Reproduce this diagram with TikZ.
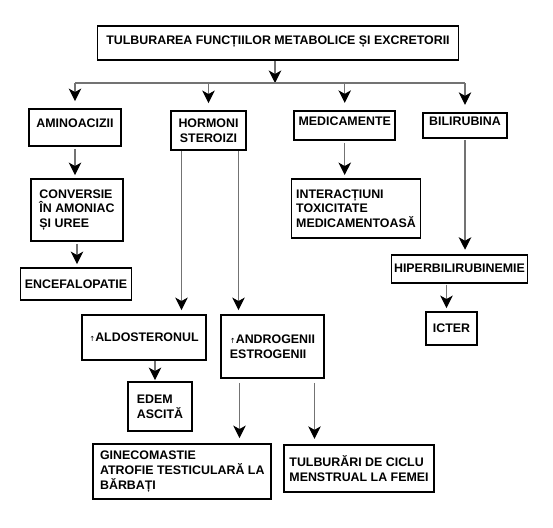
\documentclass[tikz,border=0pt]{standalone}
\usepackage{fontspec}
\setmainfont{Liberation Sans}
\newfontfamily\arrowfont{DejaVu Sans}
\usepackage{tikz}
\usetikzlibrary{arrows.meta, positioning}
\definecolor{linegray}{RGB}{115, 115, 115}
\newcommand{\uparr}{{\arrowfont\mdseries\fontsize{7}{7}\selectfont ↑}}

\begin{document}
\begin{tikzpicture}[
    x=1pt, y=-1pt,
    box/.style={draw, line width=1.9pt, align=left, inner sep=0pt, font=\bfseries\fontsize{12.4}{14.7}\selectfont},
    topbox/.style={box, text depth=8pt},
    link/.style={draw=linegray, line width=1.2pt},
    conn/.style={link, -{Stealth[color=black, length=12.5pt, width=12.5pt, inset=3.5pt]}, shorten >=3pt}
]
    \useasboundingbox (0, 0) rectangle (553, 527);

    % Title
    \node[box, minimum width=361pt, minimum height=34pt, text depth=6pt] (title) at (278, 43) {TULBURAREA FUNCȚIILOR METABOLICE ȘI EXCRETORII};

    % First level
    \node[topbox, minimum width=92pt, minimum height=37pt] (amino) at (75, 127.5) {AMINOACIZII};
    \node[box, align=center, minimum width=75pt, minimum height=39pt] (hormoni) at (208.5, 130.5) {HORMONI\\STEROIZI};
    \node[topbox, minimum width=101pt, minimum height=29pt] (medic) at (344.7, 125.3) {MEDICAMENTE};
    \node[topbox, minimum width=84pt, minimum height=25pt] (bili) at (465, 125.3) {BILIRUBINA};

    % Aminoacizii branch
    \node[box, minimum width=92pt, minimum height=62pt] (conv) at (77, 210) {CONVERSIE\\ÎN AMONIAC\\ȘI UREE};
    \node[box, minimum width=111pt, minimum height=32pt] (encef) at (76, 284) {ENCEFALOPATIE};

    % Medicamente branch
    \node[box, minimum width=129pt, minimum height=59pt] (inter) at (356, 208.5) {INTERACȚIUNI\\TOXICITATE\\MEDICAMENTOASĂ};

    % Bilirubina branch
    \node[box, minimum width=136pt, minimum height=28pt] (hiper) at (459.5, 268.7) {HIPERBILIRUBINEMIE};
    \node[box, minimum width=51pt, minimum height=33pt] (icter) at (451.5, 328.5) {ICTER};

    % Hormoni branch
    \node[box, minimum width=124pt, minimum height=45pt] (aldo) at (144, 337.5) {\uparr ALDOSTERONUL};
    \node[box, minimum width=103pt, minimum height=63pt] (andro) at (272.5, 346.5) {\uparr ANDROGENII\\ESTROGENII};
    \node[box, minimum width=64pt, minimum height=49pt] (edem) at (160, 406.5) {EDEM\\ASCITĂ};
    \node[box, minimum width=178pt, minimum height=55pt] (gineco) at (182.3, 471.5) {GINECOMASTIE\\ATROFIE TESTICULARĂ LA\\BĂRBAȚI};
    \node[box, minimum width=150pt, minimum height=47pt] (tulb) at (359, 468.3) {TULBURĂRI DE CICLU\\MENSTRUAL LA FEMEI};

    % Bus
    \coordinate (bus) at (275, 83);
    \draw[conn, shorten >=0pt] (title.south -| bus) -- (bus);
    \draw[link] (amino |- bus) -- (bili |- bus);
    \foreach \n in {amino, hormoni, medic, bili}
        \draw[conn, shorten >=7pt] (\n |- bus) -- (\n.north);

    % Arrows
    \draw[conn, shorten <=2pt] (amino.south) -- (amino.south |- conv.north);
    \draw[conn, shorten <=2pt] (conv.south) -- (conv.south |- encef.north);
    \draw[conn, shorten <=2pt] (medic.south) -- (medic.south |- inter.north);
    \draw[conn, shorten <=1pt, shorten >=4pt] (bili.south) -- (bili.south |- hiper.north);
    \coordinate (hI) at ([xshift=-13pt]hiper.south);
    \draw[conn, shorten <=1pt] (hI) -- (hI |- icter.north);

    \coordinate (hL) at ([xshift=-27pt]hormoni.south);
    \coordinate (hR) at ([xshift=30pt]hormoni.south);
    \draw[conn, shorten >=4pt] (hL) -- (hL |- aldo.north);
    \draw[conn, shorten >=4pt] (hR) -- (hR |- andro.north);
    \coordinate (aE) at ([xshift=11pt]aldo.south);
    \draw[conn, shorten >=1pt] (aE) -- (aE |- edem.north);
    \coordinate (aG) at ([xshift=-33pt]andro.south);
    \coordinate (aT) at ([xshift=42pt]andro.south);
    \draw[conn, shorten <=4pt, shorten >=5pt] (aG) -- (aG |- gineco.north);
    \draw[conn, shorten <=4pt, shorten >=5pt] (aT) -- (aT |- tulb.north);
\end{tikzpicture}
\end{document}
